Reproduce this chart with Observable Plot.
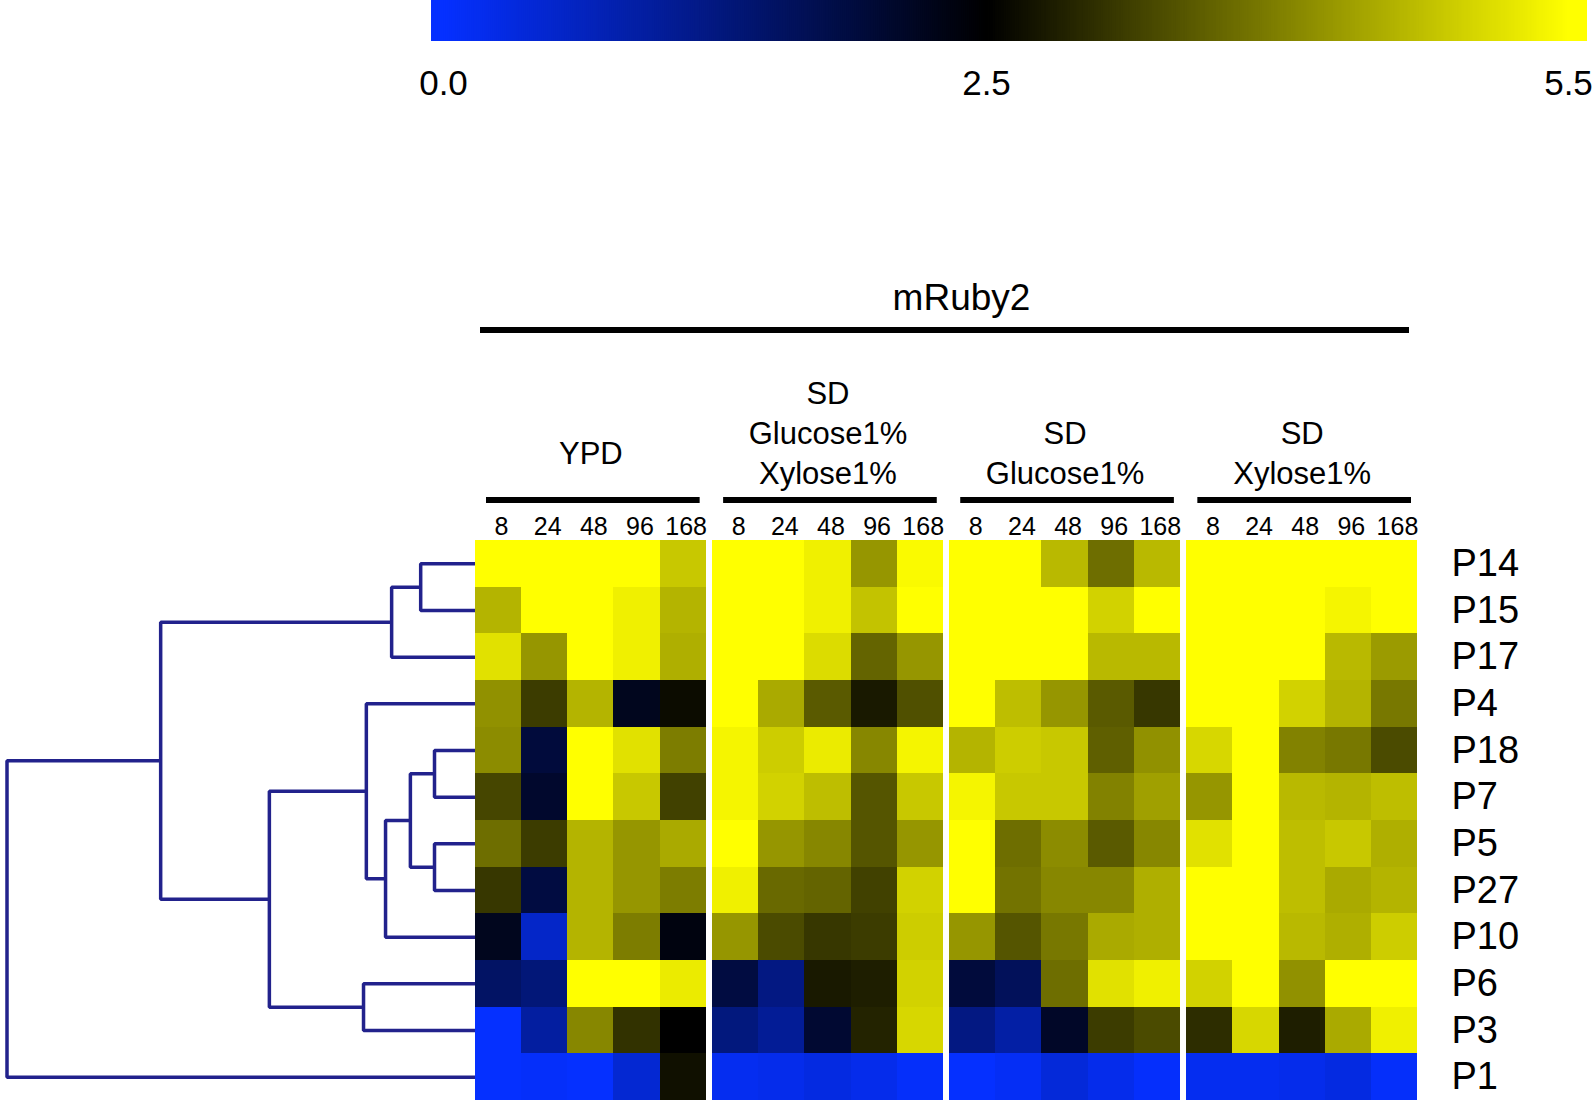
<!DOCTYPE html>
<html>
<head>
<meta charset="utf-8">
<script src="https://cdn.jsdelivr.net/npm/d3@7"></script>
<script src="https://cdn.jsdelivr.net/npm/@observablehq/plot@0.6"></script>
<style>
  body { margin: 0; background: #fff; }
  #wrap { position: relative; width: 1594px; height: 1107px; overflow: hidden; background: #fff; }
  #wrap svg { position: absolute; left: 0; top: 0; max-width: none; }
</style>
</head>
<body>
<div id="wrap"></div>
<script>
// ---------------- data ----------------
const rows = ["P14", "P15", "P17", "P4", "P18", "P7", "P5", "P27", "P10", "P6", "P3", "P1"];
const times = ["8", "24", "48", "96", "168"];
const groups = ["YPD", "SD\nGlucose1%\nXylose1%", "SD\nGlucose1%", "SD\nXylose1%"];
const title = "mRuby2";
const colorTicks = [0, 2.5, 5.5];

// values per row (rows order above), columns = times
const ypd = [
  [5.5, 5.5, 5.5, 5.5, 4.85],
  [4.62, 5.5, 5.5, 5.32, 4.62],
  [5.15, 4.26, 5.5, 5.32, 4.56],
  [4.21, 3.21, 4.62, 2.21, 2.64],
  [4.15, 1.91, 5.5, 5.15, 3.97],
  [3.32, 2.06, 5.5, 4.85, 3.26],
  [3.79, 3.21, 4.62, 4.26, 4.5],
  [3.15, 1.86, 4.62, 4.26, 3.97],
  [2.21, 0.54, 4.62, 3.97, 2.35],
  [1.52, 1.32, 5.5, 5.5, 5.26],
  [0.0, 0.93, 4.09, 3.09, 2.5],
  [0.0, 0.05, 0.0, 0.44, 2.69]
];
const sdGluXyl = [
  [5.5, 5.5, 5.32, 4.26, 5.44],
  [5.5, 5.5, 5.32, 4.79, 5.5],
  [5.5, 5.5, 5.09, 3.68, 4.26],
  [5.5, 4.5, 3.56, 2.79, 3.44],
  [5.38, 4.91, 5.26, 4.09, 5.38],
  [5.38, 4.97, 4.74, 3.5, 4.85],
  [5.5, 4.26, 4.09, 3.5, 4.26],
  [5.32, 3.74, 3.68, 3.26, 4.97],
  [4.26, 3.38, 3.15, 3.21, 4.91],
  [1.86, 1.23, 2.79, 2.85, 4.97],
  [1.27, 1.03, 2.01, 2.91, 5.03],
  [0.15, 0.2, 0.29, 0.2, 0.05]
];
const sdGlu = [
  [5.5, 5.5, 4.68, 3.79, 4.68],
  [5.5, 5.5, 5.5, 4.97, 5.5],
  [5.5, 5.5, 5.5, 4.68, 4.68],
  [5.5, 4.74, 4.26, 3.56, 3.15],
  [4.62, 4.91, 4.85, 3.62, 4.21],
  [5.38, 4.85, 4.85, 4.03, 4.38],
  [5.5, 3.79, 4.15, 3.56, 4.09],
  [5.5, 3.85, 4.09, 4.09, 4.56],
  [4.26, 3.5, 3.91, 4.5, 4.56],
  [1.91, 1.62, 3.79, 5.15, 5.32],
  [1.23, 0.88, 2.11, 3.21, 3.38],
  [0.0, 0.1, 0.37, 0.2, 0.03]
];
const sdXyl = [
  [5.5, 5.5, 5.5, 5.5, 5.5],
  [5.5, 5.5, 5.5, 5.38, 5.5],
  [5.5, 5.5, 5.5, 4.68, 4.32],
  [5.5, 5.5, 4.97, 4.62, 3.91],
  [5.03, 5.5, 4.03, 3.91, 3.38],
  [4.26, 5.5, 4.68, 4.62, 4.74],
  [5.15, 5.5, 4.74, 4.85, 4.56],
  [5.5, 5.5, 4.74, 4.5, 4.62],
  [5.5, 5.5, 4.68, 4.56, 4.91],
  [4.97, 5.5, 4.21, 5.5, 5.5],
  [3.03, 5.03, 2.85, 4.5, 5.32],
  [0.15, 0.15, 0.2, 0.29, 0.05]
];

// dendrogram merges (linkage-like): child A, child B, merge height
const mergeIds = ["m1", "m2", "m3", "m4", "m5", "m6", "m7", "m8", "m9", "m10", "m11"];
const mergeA   = ["P14", "m1", "P18", "P5", "m3", "m5", "P4", "P6", "m7", "m2", "m10"];
const mergeB   = ["P15", "P17", "P7", "P27", "m4", "P10", "m6", "P3", "m8", "m9", "P1"];
const mergeH   = [0.117, 0.179, 0.0875, 0.0875, 0.139, 0.192, 0.233, 0.239, 0.440, 0.672, 1.0];

// ---------------- layout / style ----------------
const W = 1594, H = 1107;
const FONT = '"Liberation Sans", Arial, Helvetica, sans-serif';
const GAP = 0.14;                 // gap between condition blocks, in cell widths
const heatX = [475, 1417], heatY = [540, 1100];
const ROWPX = (heatY[1] - heatY[0]) / rows.length;
const yAt = px => (px - heatY[0]) / ROWPX;   // header layout helper
const colorOpts = {
  type: "linear", domain: [0, 2.5, 5.5],
  range: ["#0530ff", "#000000", "#ffff00"], interpolate: "rgb", clamp: true
};

const wrap = document.getElementById("wrap");

// ---------------- dendrogram ----------------
const posY = new Map(rows.map((r, i) => [r, i + 0.5]));
const posH = new Map(rows.map(r => [r, 0]));
const segs = [];
mergeIds.forEach((id, k) => {
  const a = mergeA[k], b = mergeB[k], h = mergeH[k];
  const ya = posY.get(a), yb = posY.get(b);
  segs.push({id, x: posH.get(a), y: ya}, {id, x: h, y: ya}, {id, x: h, y: yb}, {id, x: posH.get(b), y: yb});
  posY.set(id, (ya + yb) / 2);
  posH.set(id, h);
});
const dendro = Plot.plot({
  width: W, height: H, margin: 0,
  style: {background: "transparent"},
  x: {type: "linear", domain: [d3.max(mergeH), 0], range: [6.5, heatX[0]], axis: null},
  y: {type: "linear", domain: [0, rows.length], range: heatY, axis: null},
  marks: [
    Plot.line(segs, {x: "x", y: "y", z: "id", stroke: "#22228c", strokeWidth: 3.5,
      strokeLinejoin: "miter", strokeLinecap: "butt"})
  ]
});
wrap.appendChild(dendro);

// ---------------- heatmap + headers ----------------
const blocks = [ypd, sdGluXyl, sdGlu, sdXyl];
const perBlock = times.length + GAP;
const nCols = groups.length * times.length + (groups.length - 1) * GAP;
const cells = [];
blocks.forEach((blk, gi) => blk.forEach((vals, ri) => vals.forEach((v, ci) =>
  cells.push({row: ri, col: gi * perBlock + ci, value: v}))));
const timeLabels = [];
groups.forEach((g, gi) => times.forEach((t, ci) => timeLabels.push({t, x: gi * perBlock + ci + 0.5})));
const groupSpans = groups.map((g, gi) => ({g, x1: gi * perBlock, x2: gi * perBlock + times.length}));
const groupLines = [];
groupSpans.forEach(s => {
  const lines = s.g.split("\n");
  const n = lines.length;
  const center = Math.min(454, 474 - (n - 1) * 20);
  lines.forEach((t, i) => groupLines.push({t, x: (s.x1 + s.x2) / 2, y: yAt(center + (i - (n - 1) / 2) * 40)}));
});

const main = Plot.plot({
  width: W, height: H, margin: 0,
  style: {background: "transparent", fontFamily: FONT, color: "black"},
  x: {type: "linear", domain: [0, nCols], range: heatX, axis: null},
  y: {type: "linear", domain: [0, rows.length], range: heatY, axis: null},
  color: colorOpts,
  marks: [
    Plot.rect(cells, {x1: "col", x2: d => d.col + 1, y1: "row", y2: d => d.row + 1,
      fill: "value", shapeRendering: "crispEdges"}),
    Plot.text(rows, {x: nCols, y: (d, i) => i + 0.5, text: d => d, textAnchor: "start",
      dx: 34, fontSize: 38, fill: "black"}),
    Plot.text(timeLabels, {x: "x", y: yAt(526), text: "t", fontSize: 25, dx: 3, fill: "black"}),
    Plot.ruleY(groupSpans, {x1: "x1", x2: "x2", y: yAt(499.5), stroke: "black", strokeWidth: 6,
      insetLeft: 11, insetRight: 6}),
    Plot.text(groupLines, {x: "x", y: "y", text: "t", fontSize: 31, fill: "black"}),
    Plot.ruleY([title], {x1: 0, x2: nCols, y: yAt(329.5), stroke: "black", strokeWidth: 6,
      insetLeft: 5, insetRight: 8}),
    Plot.text([title], {x: nCols / 2, y: yAt(298), text: d => d, fontSize: 37, dx: 15, fill: "black"})
  ]
});
wrap.appendChild(main);

// ---------------- color bar ----------------
const cbPix = [443, 986, 1568];               // tick label centres (piecewise bar)
const cbScale = d3.scaleLinear(colorTicks, cbPix);
const barMin = cbScale.invert(431), barMax = cbScale.invert(1587);
const step = (barMax - barMin) / 600;
const stops = d3.range(barMin, barMax - step / 2, step);
const cbar = Plot.plot({
  width: W, height: 110, margin: 0,
  style: {background: "transparent", fontFamily: FONT, color: "black"},
  x: {type: "linear", domain: colorTicks, range: cbPix, axis: null},
  y: {type: "linear", domain: [0, 1], range: [0, 41], axis: null},
  color: colorOpts,
  marks: [
    Plot.rect(stops, {x1: d => d, x2: d => Math.min(d + step * 1.6, barMax), y1: 0, y2: 1, fill: d => d}),
    Plot.text(colorTicks, {x: d => d, y: 1, text: d => d.toFixed(1), lineAnchor: "top", dy: 29,
      fontSize: 35, fill: "black"})
  ]
});
wrap.appendChild(cbar);
</script>
</body>
</html>
